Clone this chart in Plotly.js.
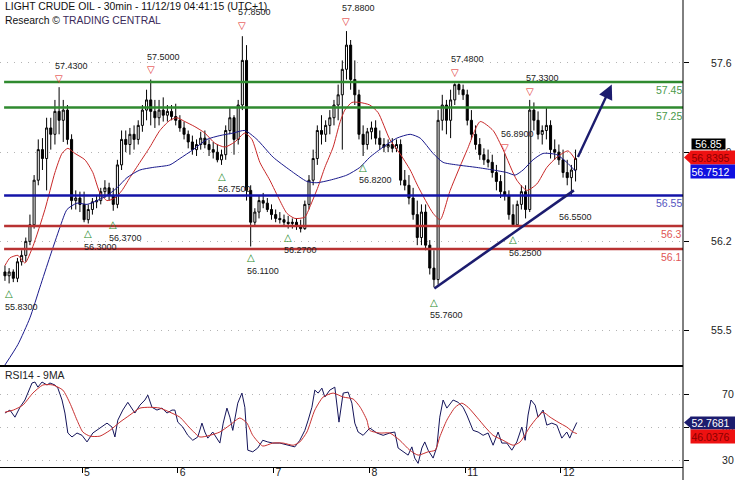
<!DOCTYPE html>
<html><head><meta charset="utf-8">
<script src="https://cdn.plot.ly/plotly-3.0.1.min.js"></script>
<style>html,body{margin:0;padding:0;background:#fff}#chart{width:735px;height:480px}</style>
</head><body><div id="chart"></div>
<script>
// ---------- data ----------
const dayTickPos = [18.5, 41.5, 64.5, 87.5, 110.5, 133.5];
const dayLabels = ['5', '6', '7', '8', '11', '12'];
const priceTicks = [57.6, 56.9, 56.2, 55.5];
const rsiTicks = [70, 50, 30];

const openP = [55.96,55.93,55.96,55.91,56.04,56.09,56.20,56.33,56.68,56.92,
56.85,57.09,57.04,57.22,57.15,57.23,57.00,56.52,56.54,56.49,
56.37,56.45,56.51,56.52,56.59,56.62,56.56,56.49,56.80,57.00,
56.96,57.04,57.00,57.11,57.23,57.31,57.22,57.17,57.23,57.19,
57.22,57.18,57.15,57.09,57.04,56.98,56.92,56.96,57.01,56.96,
56.92,56.90,56.84,56.88,57.07,57.17,57.00,57.27,57.62,56.60,
56.35,56.43,56.52,56.50,56.45,56.41,56.38,56.37,56.35,56.34,
56.35,56.32,56.30,56.49,56.68,56.85,57.07,57.04,57.11,57.17,
57.27,57.35,57.55,57.74,57.47,57.35,57.04,56.96,57.06,57.09,
57.01,56.96,56.94,56.96,56.93,56.96,56.68,56.64,56.54,56.41,
56.23,56.43,56.17,55.99,55.90,57.15,57.27,57.15,57.31,57.43,
57.39,57.35,57.15,57.04,56.96,56.88,56.84,56.82,56.74,56.67,
56.59,56.56,56.41,56.33,56.49,56.59,56.45,57.23,57.15,57.04,
57.07,57.11,56.92,56.90,56.84,56.74,56.70,56.76];
const highP = [56.01,55.99,55.98,56.07,56.13,56.23,56.41,56.72,57.00,57.01,
57.17,57.17,57.31,57.41,57.31,57.27,57.04,56.60,56.59,56.59,
56.49,56.54,56.56,56.62,56.68,56.66,56.62,56.84,57.07,57.07,
57.09,57.11,57.15,57.27,57.39,57.47,57.31,57.31,57.33,57.27,
57.27,57.28,57.19,57.14,57.07,57.03,57.00,57.06,57.07,57.00,
56.98,56.96,56.92,57.11,57.25,57.19,57.31,57.81,57.74,56.64,
56.46,56.56,56.58,56.54,56.49,56.45,56.43,56.41,56.40,56.38,
56.38,56.37,56.52,56.72,56.92,57.11,57.19,57.15,57.23,57.31,
57.43,57.62,57.85,57.78,57.62,57.39,57.11,57.09,57.14,57.15,
57.07,57.01,57.00,57.01,57.00,57.00,56.76,56.72,56.62,56.52,
56.49,56.49,56.21,56.13,57.23,57.35,57.31,57.39,57.44,57.44,
57.43,57.39,57.23,57.11,57.01,56.93,56.92,56.88,56.80,56.72,
56.89,56.60,56.49,56.52,56.64,56.64,57.31,57.29,57.22,57.11,
57.25,57.15,57.00,56.96,56.92,56.84,56.80,56.92];
const lowP = [55.89,55.87,55.88,55.88,56.01,56.04,56.17,56.30,56.64,56.76,
56.60,56.92,56.96,57.04,56.98,56.96,56.45,56.45,56.43,56.35,
56.34,56.41,56.46,56.49,56.54,56.52,56.44,56.46,56.76,56.90,
56.88,56.92,56.96,57.06,57.15,57.11,57.09,57.11,57.14,57.14,
57.15,57.11,57.06,57.00,56.93,56.88,56.87,56.92,56.93,56.87,
56.85,56.82,56.80,56.84,57.04,56.88,56.96,57.23,56.52,56.16,
56.32,56.38,56.46,56.43,56.37,56.35,56.34,56.32,56.30,56.30,
56.29,56.27,56.29,56.45,56.64,56.80,56.96,56.98,57.04,57.11,
57.15,56.92,57.47,57.39,57.27,57.00,56.87,56.92,57.00,56.96,
56.92,56.90,56.90,56.90,56.90,56.64,56.60,56.49,56.37,56.17,
56.17,56.13,55.94,55.84,55.86,57.07,57.04,57.01,57.27,57.35,
57.31,57.11,57.00,56.92,56.84,56.80,56.78,56.70,56.60,56.54,
56.52,56.37,56.32,56.33,56.45,56.38,56.43,57.07,57.00,56.96,
57.00,56.85,56.84,56.80,56.70,56.64,56.56,56.67];
const closeP = [55.93,55.96,55.91,56.04,56.09,56.20,56.33,56.68,56.92,56.85,
57.09,57.04,57.22,57.15,57.23,57.00,56.52,56.54,56.49,56.37,
56.45,56.51,56.52,56.59,56.62,56.56,56.49,56.80,57.00,56.96,
57.04,57.00,57.11,57.23,57.31,57.22,57.17,57.23,57.19,57.22,
57.18,57.15,57.09,57.04,56.98,56.92,56.96,57.01,56.96,56.92,
56.90,56.84,56.88,57.07,57.17,57.00,57.27,57.62,56.60,56.35,
56.43,56.52,56.50,56.45,56.41,56.38,56.37,56.35,56.34,56.35,
56.32,56.30,56.49,56.68,56.85,57.07,57.04,57.11,57.17,57.27,
57.35,57.55,57.74,57.47,57.35,57.04,56.96,57.06,57.09,57.01,
56.96,56.94,56.96,56.93,56.96,56.68,56.64,56.54,56.41,56.23,
56.43,56.17,55.99,55.90,57.15,57.27,57.15,57.31,57.43,57.39,
57.35,57.15,57.04,56.96,56.88,56.84,56.82,56.74,56.67,56.59,
56.56,56.41,56.33,56.49,56.59,56.45,57.23,57.15,57.04,57.07,
57.11,56.92,56.90,56.84,56.74,56.70,56.76,56.85];

const maFastX = [0,1.2,3.1,4.8,6.7,9.6,12.0,13.7,15.1,16.8,19.2,21.1,22.8,24.5,26.4,28.1,30.0,32.4,34.8,37.2,39.6,41.3,43.2,45.6,48.0,50.4,52.8,55.2,57.6,59.3,61.2,63.6,66.0,67.7,69.6,72.0,73.2,75.2,76.8,78.8,80.4,81.6,83.3,85.2,87.6,89.6,92.4,94.8,97.3,99.2,102.8,104.5,106.9,111.0,114.1,117.2,119.6,122.9,125.3,127.7,130.1,132.5,135.2,137];
const maFastY = [56.01,56.07,56.09,56.03,56.16,56.45,56.74,56.89,56.93,56.89,56.84,56.74,56.58,56.52,56.54,56.60,56.70,56.82,56.94,57.07,57.15,57.17,57.14,57.10,57.05,56.97,56.94,56.98,57.05,57.00,56.82,56.68,56.52,56.42,56.38,56.39,56.47,56.63,56.78,56.94,57.13,57.23,57.29,57.29,57.27,57.21,57.00,56.89,56.76,56.63,56.42,56.37,56.60,56.92,57.14,57.07,56.92,56.68,56.60,56.65,56.78,56.86,56.91,56.84];
const maSlowX = [0,3.1,6.0,8.4,10.8,13.2,14.9,17.3,19.7,22.1,24.5,26.9,29.3,32.4,35.5,39.6,42.0,45.2,48.5,51.6,54.8,57.6,60.5,64.4,68.4,72.5,74.9,78.0,82.1,85.2,87.6,90.8,94.1,97.3,99.7,102.8,105.2,108.5,113.3,117.2,120.5,122.5,124.4,126.8,129.2,132.5,134.9,137];
const maSlowY = [55.23,55.39,55.60,55.84,56.08,56.31,56.45,56.50,56.49,56.52,56.56,56.62,56.70,56.76,56.78,56.80,56.85,56.92,57.00,57.03,57.05,57.07,57.00,56.86,56.76,56.67,56.66,56.68,56.72,56.78,56.86,56.94,57.01,57.04,57.01,56.89,56.82,56.80,56.78,56.76,56.74,56.72,56.76,56.84,56.89,56.88,56.82,56.75];

const rsiX = [0,1.2,2.4,3.6,4.8,5.5,6.5,7.2,7.9,8.9,10.1,10.8,12.0,12.7,13.7,14.4,15.1,16.1,17.3,18.5,19.7,21.1,22.8,24.5,25.7,26.4,27.1,28.3,29.5,30.5,31.2,32.4,33.6,34.3,35.3,36.5,37.7,38.9,40.1,40.8,41.5,42.7,43.9,45.1,46.3,47.3,48.0,48.7,49.9,51.6,52.4,53.3,54.0,54.7,55.9,56.9,57.6,58.3,59.5,60.7,61.9,63.1,64.3,66.0,67.7,69.6,70.8,72.0,72.8,73.7,74.4,75.2,76.1,76.8,78.0,79.2,80.2,81.2,82.4,83.3,84.0,84.8,86.0,87.2,87.6,89.3,90.8,92.4,93.6,94.4,95.6,96.8,97.7,98.4,99.2,100.1,100.8,101.6,102.8,103.7,104.4,105.2,106.1,107.6,108.8,110.0,110.9,111.7,112.4,113.6,114.8,116.0,117.2,118.4,119.3,120.5,121.7,122.9,124.1,124.9,125.6,126.3,127.3,128.0,129.2,130.1,131.3,132.5,133.7,134.9,135.6,136.4,137.3];
const rsiVal = [58.5,60.3,56,62,66.4,70.6,76.7,77.3,74.2,77.3,75.5,76.7,75.5,73.6,66.4,58.5,46.4,44,46.4,45,41,46.4,49.4,52.4,50,44,54.2,60.3,65,61.5,58.5,63.3,66.4,69.4,62,60.3,61.5,58.5,60.3,60.3,53,50,45,42,44,52.4,47,43.3,47,40.3,52.4,61.5,56,48,64.5,70.6,62,36,35,37.3,42,41,40.3,40.3,39,38,42,48,54.2,62,72.4,70.6,73.6,68.2,72.4,74.2,53,70.6,71.2,64.5,52.4,47,45,48,49.4,46.4,45,46.4,47,37.3,35,33,38,31.2,28,37.3,41,36,31.2,38,56,66.4,61.5,66.4,65,62,57.3,52.4,48,47,45,46.4,39,47,40.3,40.3,36,41,50,42,57.3,66.4,63.3,56,60.3,51.2,52.4,51.2,43.3,47,43.3,48,52.77];
const rsiMaX = [0,2.0,4.3,6.7,9.1,11.5,13.9,15.6,17.3,18.7,20.4,22.8,25.2,27.6,30.0,32.4,34.8,37.2,39.6,42.0,44.4,46.8,49.2,51.6,54.0,56.4,58.1,59.5,61.9,64.3,66.8,69.2,70.8,72.5,74.4,76.4,78.8,81.2,83.6,85.3,86.9,87.6,90.0,92.4,94.8,97.2,99.2,101.6,103.3,104.4,106.1,108.1,109.7,111.2,113.3,115.3,117.2,119.6,122.0,123.7,126.0,127.7,129.2,130.9,132.8,134.9,136.4,137.3];
const rsiMaVal = [59,60.3,63.3,70.6,75.5,75.5,72.4,64.5,54.2,47,44.5,44.5,48,53,57.3,61.5,62,61.5,59,56,49.4,44,45,47,51.2,55.5,52.4,45,38.5,40.3,40.3,39,41,47,60.3,68.2,70.6,68.2,67,62,54.2,48,46.4,46.4,42,36,33,35,36,44,54.2,62,64.5,62,56,50,45,42,39,41,50,55.5,59,56,53,50,47,46.04];

const levelVals = [57.45, 57.25, 56.56, 56.32, 56.14];
const levelText = ['57.45', '57.25', '56.55', '56.3', '56.1'];

const peakIdx = [13, 35, 57, 82, 108, 120, 126];
const peakVal = [57.43, 57.50, 57.85, 57.88, 57.48, 56.89, 57.33];
const troughIdx = [1, 20, 26, 52, 59, 68, 86, 103, 122];
const troughVal = [55.83, 56.30, 56.37, 56.75, 56.11, 56.27, 56.82, 55.76, 56.25];
const extraLowIdx = 134, extraLowVal = 56.55;

const trendX = [103.1, 136.6], trendY = [55.83, 56.60];
const arrowX = [137.4, 145.7], arrowY = [56.85, 57.43];

const lastClose = 56.85, lastFast = 56.8395, lastSlow = 56.7512;
const lastRsi = 52.7681, lastRsiMa = 46.0376;

// ---------- drawing ----------
const FONT = 'Liberation Sans, Arial, sans-serif';
const NAVY = '#1c1c6e';
const barX = openP.map((_, i) => i);

const traces = [
  { type: 'candlestick', x: barX, open: openP, high: highP, low: lowP, close: closeP,
    xaxis: 'x', yaxis: 'y', whiskerwidth: 0,
    increasing: { line: { color: '#000', width: 1 }, fillcolor: '#ffffff' },
    decreasing: { line: { color: '#000', width: 1 }, fillcolor: '#000000' },
    hoverinfo: 'skip', showlegend: false },
  { type: 'scatter', mode: 'lines', x: maFastX, y: maFastY, xaxis: 'x', yaxis: 'y',
    line: { color: '#c82828', width: 1, shape: 'spline', smoothing: 0.6 }, hoverinfo: 'skip', showlegend: false },
  { type: 'scatter', mode: 'lines', x: maSlowX, y: maSlowY, xaxis: 'x', yaxis: 'y',
    line: { color: '#1a1a8c', width: 1, shape: 'spline', smoothing: 0.6 }, hoverinfo: 'skip', showlegend: false },
  { type: 'scatter', mode: 'lines', x: rsiX, y: rsiVal, xaxis: 'x', yaxis: 'y2',
    line: { color: '#14145a', width: 1 }, hoverinfo: 'skip', showlegend: false },
  { type: 'scatter', mode: 'lines', x: rsiMaX, y: rsiMaVal, xaxis: 'x', yaxis: 'y2',
    line: { color: '#c83030', width: 1, shape: 'spline', smoothing: 0.6 }, hoverinfo: 'skip', showlegend: false }
];

const levelColors = ['#2f8a2f', '#2f8a2f', '#1414a8', '#b83232', '#b83232'];
const levelTextColors = ['#4a9a4a', '#4a9a4a', '#5555c0', '#e05555', '#e05555'];

const shapes = [];
levelVals.forEach((v, k) => {
  shapes.push({ type: 'line', xref: 'paper', yref: 'y', x0: 0.006, x1: 1, y0: v, y1: v,
    line: { color: levelColors[k], width: 2.6 } });
});
shapes.push({ type: 'line', xref: 'x', yref: 'y', x0: trendX[0], y0: trendY[0], x1: trendX[1], y1: trendY[1],
  line: { color: NAVY, width: 2.6 } });
// separator between panels and right axis line
shapes.push({ type: 'line', xref: 'paper', yref: 'paper', x0: 0, x1: 1, y0: 0.2163, y1: 0.2163, line: { color: '#000', width: 2 } });
shapes.push({ type: 'line', xref: 'paper', yref: 'paper', x0: 1, x1: 1, y0: -0.03, y1: 1, line: { color: '#000', width: 1 } });
// pointer tips of value boxes
shapes.push({ type: 'path', xref: 'paper', yref: 'y', xsizemode: 'pixel', ysizemode: 'pixel', xanchor: 1, yanchor: lastFast,
  path: 'M1,2.4 L8,9 L8,-4.2 Z', fillcolor: '#ee1111', line: { width: 0 } });
shapes.push({ type: 'path', xref: 'paper', yref: 'y2', xsizemode: 'pixel', ysizemode: 'pixel', xanchor: 1, yanchor: lastRsi,
  path: 'M1,0 L8,6 L8,-6 Z', fillcolor: NAVY, line: { width: 0 } });

const ann = [];
ann.push({ xref: 'paper', yref: 'paper', x: 0.004, y: 0.986, xanchor: 'left', yanchor: 'middle', showarrow: false,
  text: 'LIGHT CRUDE OIL - 30min - 11/12/19 04:41:15 (UTC+1)', font: { family: FONT, size: 10.4, color: '#111' } });
ann.push({ xref: 'paper', yref: 'paper', x: 0.004, y: 0.957, xanchor: 'left', yanchor: 'middle', showarrow: false,
  text: 'Research © <span style="color:#3a2a5a">TRADING CENTRAL</span>', font: { family: FONT, size: 10.4, color: '#111' } });
ann.push({ xref: 'paper', yref: 'paper', x: 0.004, y: 0.197, xanchor: 'left', yanchor: 'middle', showarrow: false,
  text: 'RSI14 - 9MA', font: { family: FONT, size: 10.4, color: '#222' } });

levelVals.forEach((v, k) => {
  ann.push({ xref: 'paper', yref: 'y', x: 1, y: v, xanchor: 'right', yanchor: 'middle', xshift: 1, yshift: -8,
    showarrow: false, text: levelText[k], font: { family: FONT, size: 10.5, color: levelTextColors[k] } });
});
peakIdx.forEach((ix, k) => {
  ann.push({ xref: 'x', yref: 'y', x: ix, y: peakVal[k], yshift: 6, showarrow: false, text: '▽',
    font: { family: 'DejaVu Sans', size: 10, color: '#e02424' }, xanchor: 'center', yanchor: 'middle' });
  ann.push({ xref: 'x', yref: 'y', x: ix, y: peakVal[k], yshift: 19, xshift: -6, showarrow: false,
    text: peakVal[k].toFixed(4), font: { family: FONT, size: 9, color: '#222' }, xanchor: 'left', yanchor: 'middle' });
});
troughIdx.forEach((ix, k) => {
  ann.push({ xref: 'x', yref: 'y', x: ix, y: troughVal[k], yshift: -5, showarrow: false, text: '△',
    font: { family: 'DejaVu Sans', size: 10, color: '#1f8a1f' }, xanchor: 'center', yanchor: 'middle' });
  ann.push({ xref: 'x', yref: 'y', x: ix, y: troughVal[k], yshift: -18, xshift: -6, showarrow: false,
    text: troughVal[k].toFixed(4), font: { family: FONT, size: 9, color: '#222' }, xanchor: 'left', yanchor: 'middle' });
});
ann.push({ xref: 'x', yref: 'y', x: extraLowIdx, y: extraLowVal, yshift: -20, xshift: -6, showarrow: false,
  text: extraLowVal.toFixed(4), font: { family: FONT, size: 9, color: '#222' }, xanchor: 'left', yanchor: 'middle' });

// forecast arrow
ann.push({ xref: 'x', yref: 'y', axref: 'x', ayref: 'y', x: arrowX[1], y: arrowY[1], ax: arrowX[0], ay: arrowY[0],
  text: '', showarrow: true, arrowhead: 2, arrowsize: 1.2, arrowwidth: 2.4, arrowcolor: NAVY, standoff: 0 });

// value boxes on the right
const bx = 1.0103;
ann.push({ xref: 'paper', yref: 'y', x: 1.0117, y: lastClose, yshift: 14.5, xanchor: 'left', yanchor: 'middle',
  showarrow: false, text: lastClose.toFixed(2), bgcolor: '#000', width: 33, height: 10, borderpad: 0,
  font: { family: FONT, size: 10.5, color: '#fff' } });
ann.push({ xref: 'paper', yref: 'y', x: bx, y: lastFast, yshift: 2.4, xanchor: 'left', yanchor: 'middle',
  showarrow: false, text: lastFast.toFixed(4), bgcolor: '#ee1111', width: 46, height: 12, borderpad: 0.5, align: 'left',
  font: { family: FONT, size: 10.5, color: '#8a0000' } });
ann.push({ xref: 'paper', yref: 'y', x: bx, y: lastSlow, yshift: 0, xanchor: 'left', yanchor: 'middle',
  showarrow: false, text: lastSlow.toFixed(4), bgcolor: '#1010e0', width: 46, height: 12, borderpad: 0.5, align: 'left',
  font: { family: FONT, size: 10.5, color: '#fff' } });
ann.push({ xref: 'paper', yref: 'y2', x: bx, y: lastRsi, yshift: 0, xanchor: 'left', yanchor: 'middle',
  showarrow: false, text: lastRsi.toFixed(4), bgcolor: NAVY, width: 46, height: 11, borderpad: 0.5, align: 'left',
  font: { family: FONT, size: 10.5, color: '#fff' } });
ann.push({ xref: 'paper', yref: 'y2', x: bx, y: lastRsiMa, yshift: -3, xanchor: 'left', yanchor: 'middle',
  showarrow: false, text: lastRsiMa.toFixed(4), bgcolor: '#ee1111', width: 46, height: 12, borderpad: 0.5, align: 'left',
  font: { family: FONT, size: 10.5, color: '#8a0000' } });

const layout = {
  width: 735, height: 480,
  margin: { l: 0, r: 52, t: 0, b: 13, pad: 0 },
  paper_bgcolor: '#fff', plot_bgcolor: '#fff',
  showlegend: false,
  font: { family: FONT, size: 10.5, color: '#222' },
  xaxis: { type: 'linear', range: [-1.19, 162.8], anchor: 'y2', tickvals: dayTickPos, ticktext: dayLabels,
    ticks: 'outside', ticklen: 5, tickcolor: '#000', ticklabelposition: 'outside right', ticklabelshift: 1,
    ticklabelstandoff: -5,
    tickfont: { family: FONT, size: 10.5, color: '#222' }, showgrid: false, zeroline: false,
    showline: true, linecolor: '#000', linewidth: 1, rangeslider: { visible: false }, fixedrange: true },
  yaxis: { domain: [0.2163, 1], range: [55.222, 58.094], side: 'right', anchor: 'x', tickvals: priceTicks,
    ticktext: priceTicks.map(v => v.toFixed(1)), ticks: 'outside', ticklen: 5, tickcolor: '#000',
    ticklabelstandoff: 20, tickfont: { family: FONT, size: 10.5, color: '#222' },
    showgrid: true, gridcolor: '#b4b4b4', griddash: '1px,6px', gridwidth: 1, zeroline: false, showline: false, fixedrange: true },
  yaxis2: { domain: [0, 0.2141], range: [25.8, 86.4], side: 'right', anchor: 'x', tickvals: rsiTicks,
    ticktext: rsiTicks.map(String), ticks: 'outside', ticklen: 5, tickcolor: '#000',
    ticklabelstandoff: 31, tickfont: { family: FONT, size: 10.5, color: '#222' },
    showgrid: true, gridcolor: '#b4b4b4', griddash: '1px,6px', gridwidth: 1, zeroline: false, showline: false, fixedrange: true },
  shapes: shapes,
  annotations: ann
};

Plotly.newPlot('chart', traces, layout, { staticPlot: true, displayModeBar: false });
</script>
</body></html>
